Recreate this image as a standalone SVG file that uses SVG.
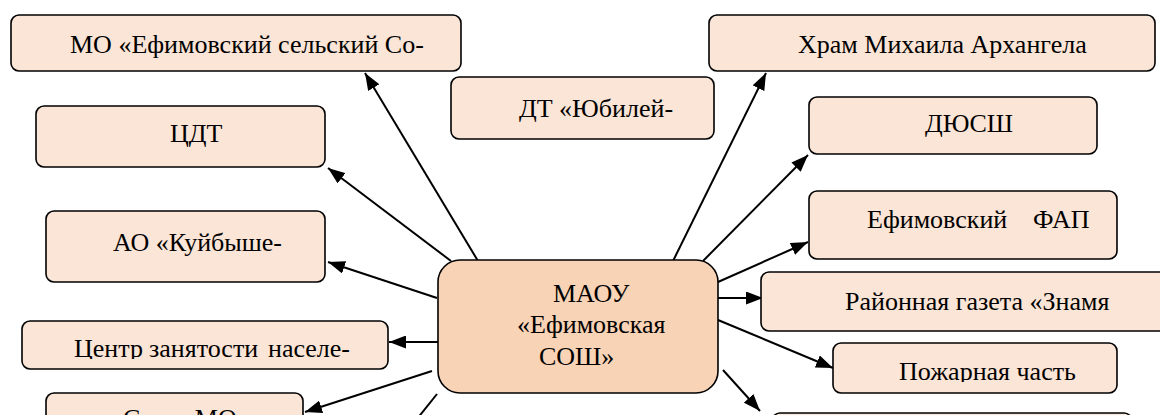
<svg xmlns="http://www.w3.org/2000/svg" width="1160" height="415" viewBox="0 0 1160 415">
<style>
.box{fill:#FBE5D6;stroke:#000;stroke-width:1.6}
.main{fill:#F9D3B5;stroke:#000;stroke-width:1.6}
.t{font-family:'Liberation Serif','Times New Roman',serif;font-size:26px;fill:#000}
.c{stroke:#000;stroke-width:2;fill:none}
</style>
<defs>
<marker id="ah" markerUnits="userSpaceOnUse" markerWidth="17" markerHeight="13" viewBox="0 0 17 13" refX="17" refY="6.5" orient="auto">
<path d="M0,0 L17,6.5 L0,13 Z" fill="#000"/>
</marker>
<clipPath id="clipCenter"><rect x="22" y="321" width="366" height="38"/></clipPath>
<clipPath id="clipPozh"><rect x="833" y="343" width="284" height="39"/></clipPath>
</defs>
<g id="connectors">
<line class="c" x1="478" y1="261" x2="365" y2="73" marker-end="url(#ah)"/>
<line class="c" x1="451" y1="261" x2="328" y2="168" marker-end="url(#ah)"/>
<line class="c" x1="437" y1="298" x2="328" y2="262" marker-end="url(#ah)"/>
<line class="c" x1="438" y1="342" x2="389" y2="342" marker-end="url(#ah)"/>
<line class="c" x1="432" y1="371" x2="305" y2="412" marker-end="url(#ah)"/>
<line class="c" x1="437" y1="394" x2="405" y2="434"/>
<line class="c" x1="673" y1="261" x2="766" y2="73" marker-end="url(#ah)"/>
<line class="c" x1="703" y1="261" x2="808" y2="155" marker-end="url(#ah)"/>
<line class="c" x1="718" y1="282" x2="808" y2="242" marker-end="url(#ah)"/>
<line class="c" x1="718" y1="298" x2="763" y2="298" marker-end="url(#ah)"/>
<line class="c" x1="718" y1="320" x2="833" y2="368" marker-end="url(#ah)"/>
<line class="c" x1="723" y1="370" x2="760" y2="411" marker-end="url(#ah)"/>
</g>
<g id="node-mo">
<rect class="box" x="11" y="15" width="450" height="56" rx="8"/>
<text class="t" x="70" y="53">МО «Ефимовский сельский Со-</text>
</g>
<g id="node-hram">
<rect class="box" x="709" y="15" width="446" height="56" rx="8"/>
<text class="t" x="798" y="53">Храм Михаила Архангела</text>
</g>
<g id="node-dt">
<rect class="box" x="451" y="77" width="263" height="62" rx="8"/>
<text class="t" x="519" y="117">ДТ «Юбилей-</text>
</g>
<g id="node-cdt">
<rect class="box" x="36" y="106" width="289" height="61" rx="8"/>
<text class="t" x="170" y="142">ЦДТ</text>
</g>
<g id="node-dyussh">
<rect class="box" x="809" y="97" width="288" height="57" rx="8"/>
<text class="t" x="925" y="132">ДЮСШ</text>
</g>
<g id="node-ao">
<rect class="box" x="46" y="211" width="279" height="71" rx="8"/>
<text class="t" x="113" y="251">АО «Куйбыше-</text>
</g>
<g id="node-fap">
<rect class="box" x="809" y="191" width="308" height="68" rx="8"/>
<text class="t" x="867" y="228">Ефимовский</text>
<text class="t" x="1033" y="228">ФАП</text>
</g>
<g id="node-gazeta">
<rect class="box" x="761" y="272" width="420" height="59" rx="8"/>
<text class="t" x="845" y="310">Районная газета «Знамя</text>
</g>
<g id="node-center-zan">
<rect class="box" x="22" y="321" width="366" height="48" rx="8"/>
<g clip-path="url(#clipCenter)">
<text class="t" x="74" y="357">Центр</text>
<text class="t" x="149" y="357">занятости</text>
<text class="t" x="268" y="357">населе-</text>
</g>
</g>
<g id="node-pozh">
<rect class="box" x="833" y="343" width="284" height="50" rx="8"/>
<g clip-path="url(#clipPozh)">
<text class="t" x="899" y="380">Пожарная часть</text>
</g>
</g>
<g id="node-bottom-left">
<rect class="box" x="46" y="393" width="257" height="50" rx="8"/>
<text class="t" x="123" y="427">Совет МО</text>
</g>
<g id="node-bottom-right">
<rect class="box" x="772" y="413" width="360" height="50" rx="8"/>
</g>
<g id="node-maou">
<rect class="main" x="438" y="260" width="280" height="133" rx="22"/>
<text class="t" x="553" y="302">МАОУ</text>
<text class="t" x="517" y="333">«Ефимовская</text>
<text class="t" x="539" y="365">СОШ»</text>
</g>
</svg>
